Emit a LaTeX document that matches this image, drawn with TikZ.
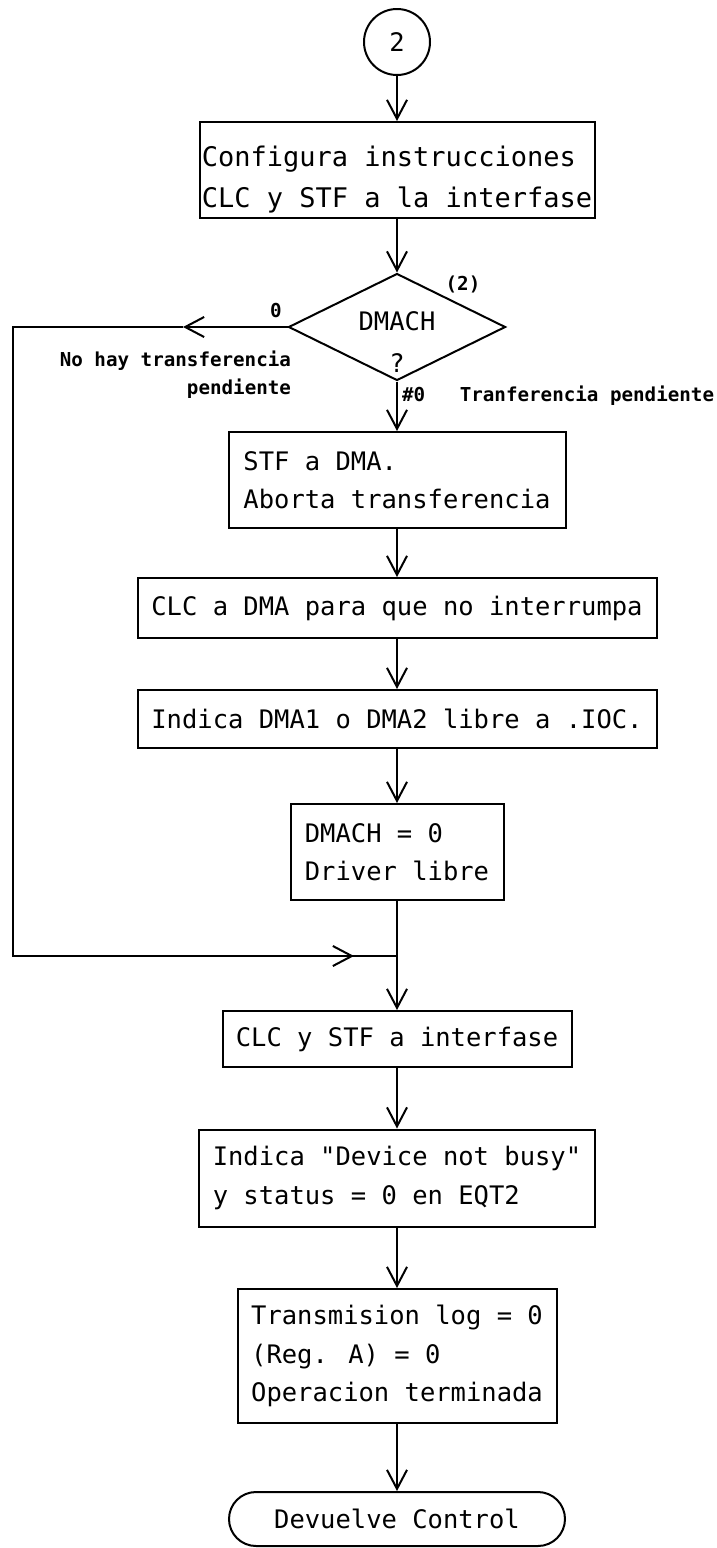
\documentclass[tikz,border=0pt]{standalone}
\usepackage{fontspec}
\newfontfamily\plotfont{DejaVu Sans Mono}
\usetikzlibrary{arrows.meta,shapes.geometric}
\begin{document}
\begin{tikzpicture}[x=1pt,y=-1pt,line width=2pt,
  txt/.style={font=\plotfont\fontsize{25.5}{38.5}\selectfont},
  proc/.style={txt,draw,rectangle,align=left,inner sep=0pt},
  lbl/.style={font=\plotfont\bfseries\fontsize{19.2}{28}\selectfont,inner sep=0pt},
  arr/.style={-{Straight Barb[length=19pt,width=20pt]}}]
\useasboundingbox (0,0) rectangle (716,1548);

% main column of the flow
\node[txt,draw,circle,minimum size=66pt,inner sep=0pt] (start) at (397,42) {2};
\node[proc,minimum width=395pt,minimum height=96pt,
      font=\plotfont\fontsize{27}{41}\selectfont] (cfg) at (397,170)
  {\rule{0pt}{40pt}Configura instrucciones\\CLC y STF a la interfase};
\node[draw,diamond,minimum width=217pt,minimum height=107pt,inner sep=0pt] (dmach) at (397,327) {};
\node[txt,anchor=base,inner sep=0pt] (qname) at (397,330) {DMACH};
\node[txt,anchor=base,inner sep=0pt] (qmark) at (397,372) {?};
\node[proc,minimum width=337pt,minimum height=96pt] (stf) at (397,480)
  {STF a DMA.\\Aborta transferencia};
\node[proc,minimum width=519pt,minimum height=60pt] (clc) at (397,608)
  {CLC a DMA para que no interrumpa};
\node[proc,minimum width=519pt,minimum height=58pt] (ind) at (397,719)
  {Indica DMA1 o DMA2 libre a .IOC.};
\node[proc,minimum width=213pt,minimum height=96pt] (free) at (397,852)
  {DMACH = 0\\Driver libre};
\node[proc,minimum width=349pt,minimum height=56pt] (clcif) at (397,1039)
  {CLC y STF a interfase};
\node[proc,minimum width=396pt,minimum height=97pt] (busy) at (397,1178)
  {Indica "Device not busy"\\y status = 0 en EQT2};
\node[proc,minimum width=319pt,minimum height=134pt] (done) at (397,1356)
  {Transmision log = 0\\(Reg. A) = 0\\Operacion terminada};
\node[txt,draw,rectangle,rounded corners=27pt,minimum width=336pt,minimum height=54pt,inner sep=0pt]
  (ret) at (397,1519) {Devuelve Control};

% branch labels
\node[lbl,anchor=base] (lcase) at (463,290) {(2)};
\node[lbl,anchor=base] (lzero) at (276,317) {0};
\node[lbl,anchor=base east] (lno1) at (292,366) {No hay transferencia};
\node[lbl,anchor=base east] (lno2) at (292,394) {pendiente};
\node[lbl,anchor=base west] (lyes) at (401,401) {\#0~~~Tranferencia pendiente};

% bypass route on the left
\coordinate (m1) at (183,327);
\coordinate (tl) at (13,327);
\coordinate (bl) at (13,956);
\coordinate (m2) at (354,956);
\coordinate (join) at (397,956);

\draw[arr] (start) -- (cfg);
\draw[arr] (cfg) -- (dmach.north);
\draw[arr] (dmach.south) -- (stf);
\draw[arr] (stf) -- (clc);
\draw[arr] (clc) -- (ind);
\draw[arr] (ind) -- (free);
\draw (free) -- (join);
\draw[arr] (join) -- (clcif);
\draw[arr] (clcif) -- (busy);
\draw[arr] (busy) -- (done);
\draw[arr] (done) -- (ret);

\draw[arr] (dmach.west) -- (m1);
\draw (m1) -- (tl) -- (bl) -- (join);
\draw[arr] (bl) -- (m2);
\end{tikzpicture}
\end{document}
